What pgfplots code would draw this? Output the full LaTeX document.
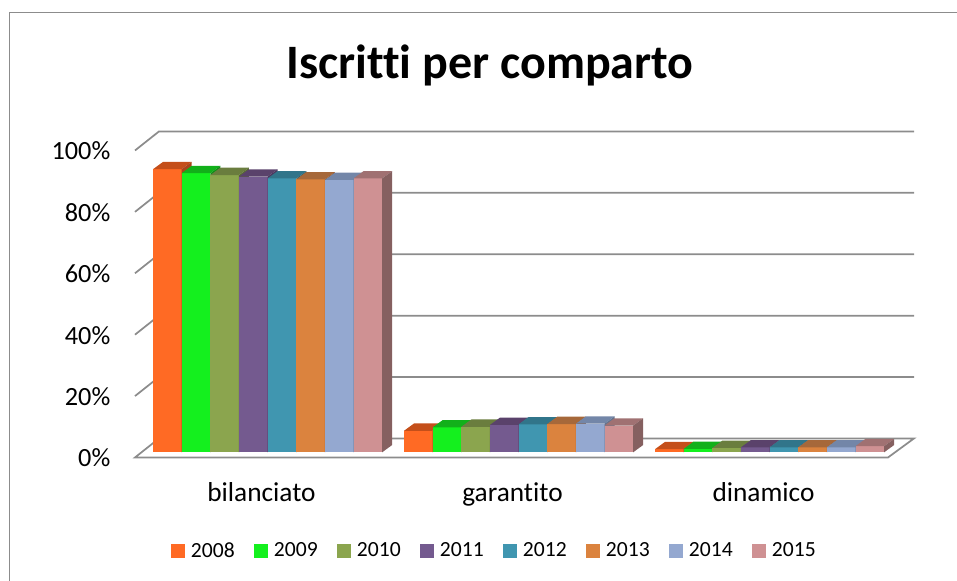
\documentclass[border=0pt]{standalone}
\usepackage{fontspec}
\setmainfont{Carlito}[Ligatures=NoCommon]
\usepackage{pgfplots}
\pgfplotsset{compat=1.18}
\definecolor{c1}{HTML}{FF6A24}\definecolor{t1}{HTML}{C44F1A}\definecolor{s1}{HTML}{A8451A}
\definecolor{c2}{HTML}{14F01E}\definecolor{t2}{HTML}{12B01A}\definecolor{s2}{HTML}{0F9016}
\definecolor{c3}{HTML}{8BA54E}\definecolor{t3}{HTML}{6A7D3E}\definecolor{s3}{HTML}{5A6B34}
\definecolor{c4}{HTML}{745A8F}\definecolor{t4}{HTML}{5A426B}\definecolor{s4}{HTML}{4C3860}
\definecolor{c5}{HTML}{4096B0}\definecolor{t5}{HTML}{31758A}\definecolor{s5}{HTML}{2A6476}
\definecolor{c6}{HTML}{DB833E}\definecolor{t6}{HTML}{A6683A}\definecolor{s6}{HTML}{94582C}
\definecolor{c7}{HTML}{94A8D0}\definecolor{t7}{HTML}{7386A8}\definecolor{s7}{HTML}{64748F}
\definecolor{c8}{HTML}{CF9193}\definecolor{t8}{HTML}{A07172}\definecolor{s8}{HTML}{856060}
\definecolor{gridc}{HTML}{8C8C8C}
\newcommand{\px}{0.75pt}
% one bar: left x in px, series number, value
\newcommand{\tdbar}[3]{%
  \pgfmathsetmacro{\xa}{#1}\pgfmathsetmacro{\xb}{#1+28.65}\pgfmathsetmacro{\xc}{#1+38.65}\pgfmathsetmacro{\xd}{#1+10}%
  \pgfmathsetmacro{\yt}{#3+2.38}\pgfmathsetmacro{\yb}{2.38}%
  \addplot[fill=c#2,draw=none,forget plot] coordinates {(\xa,0)(\xb,0)(\xb,#3)(\xa,#3)} -- cycle;
  \addplot[fill=t#2,draw=none,forget plot] coordinates {(\xa,#3)(\xb,#3)(\xc,\yt)(\xd,\yt)} -- cycle;
  \addplot[fill=s#2,draw=none,forget plot] coordinates {(\xb,0)(\xc,\yb)(\xc,\yt)(\xb,#3)} -- cycle;
}
\pgfplotsset{
  base/.style={scale only axis,width=753*\px,height=307*\px,xmin=135,xmax=888,ymin=0,ymax=100,clip=false,anchor=south west},
}
\begin{document}
\begin{tikzpicture}
\path[use as bounding box] (0,0) rectangle (717.75pt,-435.75pt);
\draw[gridc,line width=1.1pt] (7.1pt,-435.75pt) -- (7.1pt,-9.2pt) -- (717.75pt,-9.2pt);
\begin{axis}[base,at={(101.25pt,-343.1pt)},
  axis line style={draw=none},tick style={draw=none},
  xtick={261.5,512.5,763.5},xticklabels={bilanciato,garantito,dinamico},
  ytick={0,20,40,60,80,100},yticklabel={\pgfmathprintnumber{\tick}\%},
  /pgf/number format/assume math mode=true,
  xticklabel style={yshift=-15.5pt,font=\fontsize{20.5pt}{23pt}\selectfont,text=black},
  yticklabel style={xshift=-15pt,yshift=-0.5pt,font=\fontsize{19.7pt}{22pt}\selectfont,text=black},
  title={\fontsize{36pt}{41pt}\selectfont\bfseries Iscritti per comparto},
  title style={at={(axis description cs:0.4714,1)},anchor=south,yshift=39pt},
  legend style={at={(axis description cs:0.4775,-0.3035)},anchor=center,draw=none,fill=none,
    legend columns=8,font=\fontsize{16.2pt}{18pt}\selectfont,
    /tikz/every even column/.append style={column sep=12.2pt}},
  legend image code/.code={\fill[#1] (0pt,-4.9pt) rectangle (9.8pt,4.9pt);\path (12.8pt,0pt);},
]
\addlegendimage{c1,fill=c1}\addlegendentry{2008}
\addlegendimage{c2,fill=c2}\addlegendentry{2009}
\addlegendimage{c3,fill=c3}\addlegendentry{2010}
\addlegendimage{c4,fill=c4}\addlegendentry{2011}
\addlegendimage{c5,fill=c5}\addlegendentry{2012}
\addlegendimage{c6,fill=c6}\addlegendentry{2013}
\addlegendimage{c7,fill=c7}\addlegendentry{2014}
\addlegendimage{c8,fill=c8}\addlegendentry{2015}
% gridlines on wall and side wall
\addplot[gridc,line width=1.3pt,forget plot] coordinates {(135,20)(159,26.2)(914,26.2)};
\addplot[gridc,line width=1.3pt,forget plot] coordinates {(135,40)(159,46.2)(914,46.2)};
\addplot[gridc,line width=1.3pt,forget plot] coordinates {(135,60)(159,66.2)(914,66.2)};
\addplot[gridc,line width=1.3pt,forget plot] coordinates {(135,80)(159,86.2)(914,86.2)};
\addplot[gridc,line width=1.3pt,forget plot] coordinates {(135,100)(159,106.2)(914,106.2)};
\addplot[gridc,line width=1.3pt,forget plot] coordinates {(135,0)(888,0)(914,6.2)(159,6.2)} -- cycle;
\end{axis}
\begin{axis}[base,at={(101.25pt,-339.2pt)},hide axis]
\tdbar{153}{1}{92.2}\tdbar{181.65}{2}{90.9}\tdbar{210.3}{3}{90.3}\tdbar{238.95}{4}{89.8}\tdbar{267.6}{5}{89.2}\tdbar{296.25}{6}{88.9}\tdbar{324.9}{7}{88.7}\tdbar{353.55}{8}{89.2}
\tdbar{404}{1}{7.0}\tdbar{432.65}{2}{8.1}\tdbar{461.3}{3}{8.3}\tdbar{489.95}{4}{8.9}\tdbar{518.6}{5}{9.1}\tdbar{547.25}{6}{9.2}\tdbar{575.9}{7}{9.3}\tdbar{604.55}{8}{8.7}
\tdbar{655}{1}{1.0}\tdbar{683.65}{2}{1.1}\tdbar{712.3}{3}{1.4}\tdbar{740.95}{4}{1.6}\tdbar{769.6}{5}{1.6}\tdbar{798.25}{6}{1.6}\tdbar{826.9}{7}{1.6}\tdbar{855.55}{8}{2.0}
\end{axis}
\end{tikzpicture}
\end{document}
